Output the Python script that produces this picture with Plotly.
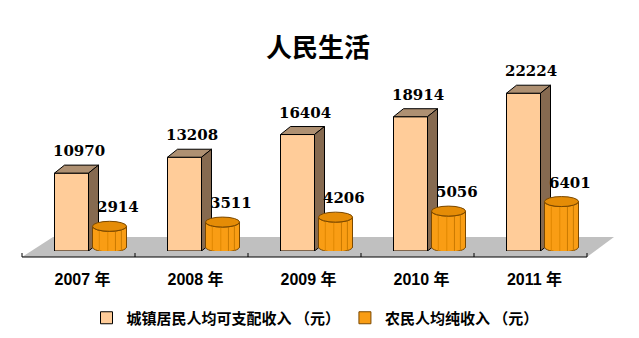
import math
import plotly.graph_objects as go

# ---------------- data ----------------
years = ["2007 年", "2008 年", "2009 年", "2010 年", "2011 年"]
urban = [10970, 13208, 16404, 18914, 22224]
rural = [2914, 3511, 4206, 5056, 6401]
series_names = ["城镇居民人均可支配收入 （元）", "农民人均纯收入 （元）"]

# ---------------- layout constants ----------------
W, H = 639, 338
ML, MR, MT, MB = 34, 40, 38, 87
YMAX = 30000
xi = list(range(len(years)))
PX = (W - ML - MR) / len(years)      # pixels per x unit
PY = YMAX / (H - MT - MB)            # data units per y pixel


def dx(p):
    return p / PX


def dy(p):
    return p * PY


OFF = dx(19)
BW = dx(34)
DEPX, DEPY = 10, 8
K = 0.5523

C_URBAN = "#FFCC99"
C_TOP = "#AE9072"
C_SIDE = "#866A50"
C_RURAL = "#F99D14"
C_RURAL_TOP = "#E58C06"
C_RURAL_LINE = "#7A4800"

fig = go.Figure()
fig.add_trace(go.Bar(
    x=[i - OFF for i in xi], y=urban, width=BW, name=series_names[0],
    marker=dict(color=C_URBAN, line=dict(color="black", width=1)),
))
fig.add_trace(go.Bar(
    x=[i + OFF for i in xi], y=rural, base=dy(4), width=BW, name=series_names[1],
    marker=dict(color=C_RURAL, line=dict(color=C_RURAL_LINE, width=1)),
))


def path(pts):
    return "M" + " L".join(f"{x:.5f},{y:.3f}" for x, y in pts) + " Z"


shapes = []
# floor and front axis (paper anchored, pixel offsets)
shapes.append(dict(type="path", xref="paper", yref="paper", xsizemode="pixel", ysizemode="pixel",
                   xanchor=0, yanchor=0, path="M-12,-6 L19,14 L580,14 L553,-6 Z",
                   fillcolor="#C0C0C0", line=dict(width=0), layer="below"))
shapes.append(dict(type="path", xref="paper", yref="paper", xsizemode="pixel", ysizemode="pixel",
                   xanchor=0, yanchor=0, path="M-12,-6 L553,-6",
                   line=dict(color="black", width=1), layer="below"))
for j in range(len(years) + 1):
    xp = -12 + PX * j
    shapes.append(dict(type="path", xref="paper", yref="paper", xsizemode="pixel", ysizemode="pixel",
                       xanchor=0, yanchor=0, path=f"M{xp:.1f},-6 L{xp:.1f},-2",
                       line=dict(color="black", width=1), layer="below"))

for i, (u, r) in enumerate(zip(urban, rural)):
    # urban 3D box
    x0 = i - OFF - BW / 2
    x1 = i - OFF + BW / 2
    ddx, ddy = dx(DEPX), dy(DEPY)
    shapes.append(dict(type="path", xref="x", yref="y",
                       path=path([(x0, u), (x0 + ddx, u + ddy), (x1 + ddx, u + ddy), (x1, u)]),
                       fillcolor=C_TOP, line=dict(color="black", width=1), layer="above"))
    shapes.append(dict(type="path", xref="x", yref="y",
                       path=path([(x1, u), (x1 + ddx, u + ddy), (x1 + ddx, ddy), (x1, 0)]),
                       fillcolor=C_SIDE, line=dict(color="black", width=1), layer="above"))
    # rural cylinder
    cx = i + OFF
    rx = BW / 2
    ry = dy(5)
    yb = dy(4)
    yt = r + dy(4)
    body = (
        f"M{cx - rx:.5f},{yt:.3f} L{cx - rx:.5f},{yb:.3f} "
        f"C{cx - rx:.5f},{yb - K * ry:.3f} {cx - K * rx:.5f},{yb - ry:.3f} {cx:.5f},{yb - ry:.3f} "
        f"C{cx + K * rx:.5f},{yb - ry:.3f} {cx + rx:.5f},{yb - K * ry:.3f} {cx + rx:.5f},{yb:.3f} "
        f"L{cx + rx:.5f},{yt:.3f} "
        f"C{cx + rx:.5f},{yt - K * ry:.3f} {cx + K * rx:.5f},{yt - ry:.3f} {cx:.5f},{yt - ry:.3f} "
        f"C{cx - K * rx:.5f},{yt - ry:.3f} {cx - rx:.5f},{yt - K * ry:.3f} {cx - rx:.5f},{yt:.3f} Z"
    )
    shapes.append(dict(type="path", xref="x", yref="y", path=body,
                       fillcolor=C_RURAL, line=dict(color=C_RURAL_LINE, width=1), layer="above"))
    for f in (0.35, 0.7):
        xs = cx + f * rx
        off = ry * math.sqrt(1 - f * f)
        shapes.append(dict(type="path", xref="x", yref="y",
                           path=f"M{xs:.5f},{yt - off:.3f} L{xs:.5f},{yb - off:.3f}",
                           line=dict(color="#C97A00", width=1), layer="above"))
    for f in (-0.6, -0.1):
        xs = cx + f * rx
        off = ry * math.sqrt(1 - f * f)
        shapes.append(dict(type="path", xref="x", yref="y",
                           path=f"M{xs:.5f},{yt - off:.3f} L{xs:.5f},{yb - off:.3f}",
                           line=dict(color="#E08800", width=1), layer="above"))
    shapes.append(dict(type="circle", xref="x", yref="y",
                       x0=cx - rx, x1=cx + rx, y0=yt - ry, y1=yt + ry,
                       fillcolor=C_RURAL_TOP, line=dict(color=C_RURAL_LINE, width=1), layer="above"))

annotations = []
lab_font = dict(family="DejaVu Serif, Liberation Serif", size=15, color="black", weight="bold")
for i, (u, r) in enumerate(zip(urban, rural)):
    annotations.append(dict(x=i - OFF + dx(7), y=u, xref="x", yref="y", text=str(u),
                            showarrow=False, yanchor="middle", yshift=22, font=lab_font))
    annotations.append(dict(x=i + OFF + dx(8), y=r + dy(4), xref="x", yref="y", text=str(r),
                            showarrow=False, yanchor="middle", yshift=19, font=lab_font))

fig.update_layout(
    width=W, height=H,
    margin=dict(l=ML, r=MR, t=MT, b=MB, pad=0),
    paper_bgcolor="white", plot_bgcolor="white",
    barmode="overlay",
    title=dict(text="人民生活", x=318 / W, xref="container", xanchor="center",
               y=1 - 48 / H, yref="container", yanchor="middle",
               font=dict(family="Noto Sans CJK SC", size=26, color="black", weight="bold")),
    xaxis=dict(range=[-0.5, len(years) - 0.5], showgrid=False, zeroline=False, showline=False,
               tickvals=[i - dx(8) for i in xi], ticktext=years, ticks="",
               ticklabelstandoff=17,
               tickfont=dict(family="Liberation Sans, Noto Sans CJK SC", size=16, color="black",
                             weight="bold")),
    yaxis=dict(range=[0, YMAX], visible=False, showgrid=False, zeroline=False),
    legend=dict(orientation="h", xref="container", yref="container", x=315 / W, xanchor="center",
                y=1 - 318 / H, yanchor="middle",
                font=dict(family="Noto Sans CJK SC", size=15, color="black", weight="bold"),
                itemwidth=30, traceorder="normal"),
    shapes=shapes,
    annotations=annotations,
    showlegend=True,
)

fig.write_html("out.html")
